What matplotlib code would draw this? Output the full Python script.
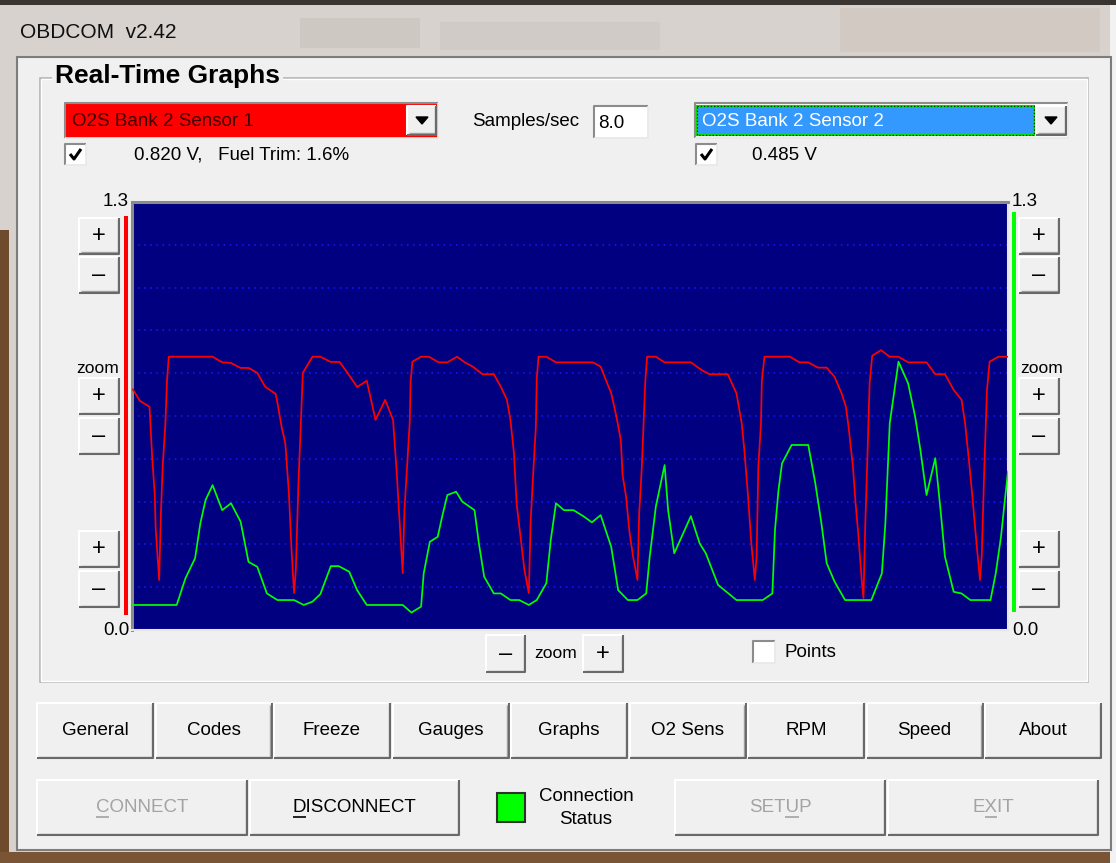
import matplotlib.pyplot as plt
from matplotlib.patches import Rectangle, Polygon

plt.rcParams['font.family'] = ['Liberation Sans', 'DejaVu Sans']

# sensor traces: time as % of the visible window, value in volts
s1_time = [0.1, 0.9, 2.0, 2.3, 2.6, 2.7, 3.1, 3.3, 3.5, 3.8,
           4.0, 4.2, 9.2, 10.3, 11.3, 12.4, 13.3, 14.3, 15.2, 16.4,
           16.6, 17.1, 17.5, 17.9, 18.2, 18.5, 18.7, 19.0, 19.2, 19.5,
           20.6, 21.5, 22.7, 23.7, 24.6, 25.7, 26.8, 27.8, 28.9, 29.8,
           30.2, 30.6, 30.9, 31.1, 31.4, 31.7, 31.8, 32.0, 33.0, 33.9,
           35.0, 36.0, 37.1, 38.1, 38.9, 40.0, 41.3, 42.1, 42.8, 43.2,
           43.6, 43.9, 44.3, 44.8, 45.3, 45.5, 45.8, 46.1, 46.2, 46.4,
           47.3, 48.4, 52.6, 53.5, 54.1, 54.7, 55.3, 55.8, 56.0, 56.4,
           56.8, 57.2, 57.7, 57.9, 58.2, 58.4, 58.6, 58.8, 59.8, 60.8,
           63.8, 65.0, 65.9, 68.0, 69.0, 69.6, 69.9, 70.3, 70.7, 71.1,
           71.3, 71.5, 71.8, 71.9, 72.2, 75.1, 76.2, 77.2, 78.3, 79.3,
           80.2, 81.0, 81.5, 81.8, 82.3, 82.6, 82.9, 83.3, 83.5, 83.7,
           84.0, 84.2, 84.5, 85.5, 86.5, 87.5, 88.6, 90.7, 91.7, 92.8,
           93.8, 94.7, 95.1, 95.5, 95.9, 96.3, 96.8, 97.0, 97.3, 97.6,
           97.9, 98.9, 100.0]
s1_volts = [0.731, 0.696, 0.678, 0.526, 0.410, 0.310, 0.152, 0.355, 0.496, 0.623,
            0.759, 0.830, 0.830, 0.813, 0.811, 0.796, 0.796, 0.781, 0.739, 0.717,
            0.690, 0.614, 0.568, 0.420, 0.249, 0.112, 0.182, 0.447, 0.577, 0.781,
            0.830, 0.830, 0.814, 0.814, 0.781, 0.738, 0.757, 0.638, 0.699, 0.638,
            0.486, 0.310, 0.173, 0.364, 0.496, 0.629, 0.750, 0.815, 0.830, 0.830,
            0.813, 0.813, 0.830, 0.811, 0.800, 0.777, 0.777, 0.739, 0.699, 0.638,
            0.538, 0.386, 0.295, 0.182, 0.112, 0.325, 0.477, 0.617, 0.759, 0.830,
            0.830, 0.813, 0.813, 0.800, 0.759, 0.720, 0.648, 0.577, 0.471, 0.405,
            0.295, 0.223, 0.152, 0.355, 0.496, 0.629, 0.759, 0.830, 0.830, 0.813,
            0.813, 0.790, 0.777, 0.777, 0.719, 0.628, 0.547, 0.415, 0.263, 0.152,
            0.223, 0.496, 0.628, 0.759, 0.830, 0.830, 0.813, 0.813, 0.797, 0.797,
            0.769, 0.719, 0.678, 0.617, 0.496, 0.385, 0.294, 0.152, 0.097, 0.314,
            0.567, 0.749, 0.833, 0.850, 0.830, 0.830, 0.813, 0.813, 0.777, 0.777,
            0.729, 0.699, 0.628, 0.526, 0.415, 0.294, 0.152, 0.223, 0.496, 0.729,
            0.815, 0.830, 0.830]

s2_time = [0.1, 5.1, 6.1, 7.2, 7.8, 8.4, 9.2, 10.3, 11.3, 12.4,
           13.3, 14.3, 15.4, 16.6, 18.5, 19.6, 20.6, 21.5, 22.7, 23.6,
           24.8, 25.7, 26.8, 30.9, 31.9, 33.0, 33.3, 34.0, 34.9, 35.4,
           36.0, 37.0, 37.7, 39.1, 39.6, 40.2, 41.3, 42.1, 43.2, 44.2,
           45.3, 46.2, 47.3, 47.8, 48.4, 49.3, 50.4, 51.5, 52.5, 53.5,
           54.7, 55.5, 56.6, 57.7, 58.7, 59.1, 59.8, 60.8, 61.2, 61.9,
           63.8, 64.8, 65.5, 66.9, 69.0, 72.0, 73.1, 73.4, 73.8, 74.2,
           75.3, 77.2, 78.0, 78.7, 79.3, 80.2, 81.4, 84.4, 85.6, 86.0,
           86.5, 87.5, 88.6, 89.4, 90.0, 90.7, 91.7, 92.3, 92.8, 93.8,
           94.7, 95.7, 98.0, 98.6, 99.2, 99.6, 100.0]
s2_volts = [0.076, 0.076, 0.157, 0.218, 0.324, 0.395, 0.440, 0.364, 0.385, 0.329,
            0.207, 0.192, 0.111, 0.091, 0.091, 0.076, 0.086, 0.109, 0.194, 0.194,
            0.177, 0.121, 0.076, 0.076, 0.053, 0.071, 0.172, 0.268, 0.283, 0.344,
            0.410, 0.420, 0.390, 0.364, 0.263, 0.162, 0.111, 0.111, 0.091, 0.091,
            0.076, 0.091, 0.142, 0.273, 0.385, 0.364, 0.364, 0.346, 0.327, 0.349,
            0.253, 0.121, 0.091, 0.091, 0.111, 0.223, 0.375, 0.501, 0.364, 0.233,
            0.346, 0.263, 0.233, 0.137, 0.091, 0.091, 0.111, 0.304, 0.425, 0.506,
            0.562, 0.562, 0.446, 0.324, 0.203, 0.147, 0.091, 0.091, 0.172, 0.324,
            0.628, 0.815, 0.749, 0.648, 0.547, 0.410, 0.522, 0.364, 0.223, 0.116,
            0.111, 0.091, 0.091, 0.172, 0.283, 0.385, 0.481]

volt_max = 1.3
grid_step = 0.13

s1_name = 'O2S Bank 2 Sensor 1'
s2_name = 'O2S Bank 2 Sensor 2'
s1_readout = '0.820 V,   Fuel Trim: 1.6%'
s2_readout = '0.485 V'
sample_rate = '8.0'
tab_labels = ['General', 'Codes', 'Freeze', 'Gauges', 'Graphs', 'O2 Sens', 'RPM', 'Speed', 'About']

W, H = 1116, 863
FS = 13.5
fig = plt.figure(figsize=(W / 100, H / 100), dpi=100)
ui = fig.add_axes([0, 0, 1, 1])
ui.set_xlim(0, W)
ui.set_ylim(H, 0)
ui.axis('off')
ui.set_autoscale_on(False)
renderer = fig.canvas.get_renderer()


def box(x0, y0, x1, y1, fc, ec='none', lw=0, z=1, alpha=1.0):
    ui.add_patch(Rectangle((x0, y0), x1 - x0, y1 - y0, facecolor=fc,
                           edgecolor=ec, linewidth=lw, zorder=z, alpha=alpha))


def line(xs, ys, color, lw=1.0, z=3, ls='-'):
    ui.plot(xs, ys, color=color, lw=lw, zorder=z, ls=ls, solid_capstyle='butt')


def raised(x0, y0, x1, y1):
    box(x0, y0, x1, y1, '#f0f0f0', z=2)
    line([x0, x0, x1], [y1, y0, y0], 'white', 1.5)
    line([x0 + 1.5, x1 - 1.5, x1 - 1.5], [y1 - 1.5, y1 - 1.5, y0 + 1.5], '#a0a0a0', 1)
    line([x0, x1, x1], [y1, y1, y0], '#696969', 1.5)


def sunken(x0, y0, x1, y1, fc='white'):
    box(x0, y0, x1, y1, fc, z=2)
    line([x0, x0, x1], [y1, y0, y0], '#8c8c8c', 1.5)
    line([x0, x1, x1], [y1, y1, y0], '#e8e8e8', 1.2)


def button(x0, y0, x1, y1, label, color='black', size=FS, under=None):
    raised(x0, y0, x1, y1)
    cx, cy = (x0 + x1) / 2, (y0 + y1) / 2
    t = ui.text(cx, cy, label, ha='center', va='center', fontsize=size, color=color, zorder=5)
    if under is not None:
        bb = t.get_window_extent(renderer)
        probe = ui.text(0, 0, label[:under + 1], fontsize=size)
        w1 = probe.get_window_extent(renderer).width
        w0 = 0
        if under > 0:
            probe.set_text(label[:under])
            w0 = probe.get_window_extent(renderer).width
        probe.remove()
        line([bb.x0 + w0, bb.x0 + w1], [cy + 9, cy + 9], color, 1.2, z=5)


def checkbox(x0, y0, size=21, checked=True):
    sunken(x0, y0, x0 + size, y0 + size)
    if checked:
        line([x0 + 5, x0 + 9, x0 + 16], [y0 + 10, y0 + 15, y0 + 5], 'black', 2.2, z=5)


# window frame (aero glass, blurred desktop behind)
box(0, 0, W, H, '#d8d2ce', z=0)
box(0, 0, W, 5, '#3b3532', z=0.5)
box(300, 18, 420, 48, '#a39b96', z=0.5, alpha=0.18)
box(440, 22, 660, 50, '#a39b96', z=0.5, alpha=0.12)
box(840, 8, 1100, 52, '#c9bab0', z=0.5, alpha=0.35)
box(0, 230, 9, H, '#6e4b2c', z=0.5)
box(0, 852, W, H, '#7a5535', z=0.5)
box(1110, 5, W, H, '#f2f2f2', z=0.5)
ui.text(20, 32, 'OBDCOM  v2.42', fontsize=15, va='center', color='#101010', zorder=5)

# client area
box(17, 57, 1111, 850, '#f0f0f0', ec='#7c7c7c', lw=1.5, z=1)

# group box
ui.add_patch(Rectangle((40, 78), 1048, 604, fill=False, edgecolor='#b4b4b4', lw=1.2, zorder=1.5))
ui.add_patch(Rectangle((41, 79), 1046, 602, fill=False, edgecolor='white', lw=1, zorder=1.5))
ui.text(55, 76, 'Real-Time Graphs', fontsize=19, fontweight='bold', va='center', color='black',
        zorder=5, bbox=dict(facecolor='#f0f0f0', edgecolor='none', pad=2))

# sensor 1 combo
sunken(65, 103, 438, 138, fc='#ff0000')
raised(407, 106, 436, 135)
ui.add_patch(Polygon([[416, 117], [428, 117], [422, 124]], closed=True, color='black', zorder=5))
ui.text(72, 122, s1_name, fontsize=FS, va='center', color='#3a0000', zorder=5)
checkbox(65, 144)
ui.text(134, 155, s1_readout, fontsize=FS, va='center', zorder=5)

# samples / sec
ui.text(472, 122, 'Samples/sec', fontsize=FS, va='center', zorder=5)
sunken(594, 106, 648, 138)
ui.text(598, 123, sample_rate, fontsize=FS, va='center', zorder=5)

# sensor 2 combo
sunken(695, 103, 1068, 138, fc='white')
box(697, 106, 1034, 135, '#3399ff', ec='#00dd00', lw=1.5, z=3)
ui.add_patch(Rectangle((697, 106), 337, 29, fill=False, edgecolor='black', lw=0.8,
                       ls=(0, (1, 2)), zorder=3.5))
raised(1036, 106, 1066, 135)
ui.add_patch(Polygon([[1045, 117], [1057, 117], [1051, 124]], closed=True, color='black', zorder=5))
ui.text(702, 122, s2_name, fontsize=FS, va='center', color='white', zorder=5)
checkbox(696, 144)
ui.text(752, 155, s2_readout, fontsize=FS, va='center', zorder=5)

# scale labels and colour bars
ui.text(129, 201, f'{volt_max:.1f}', fontsize=FS, ha='right', va='center', zorder=5)
ui.text(129, 630, f'{0:.1f}', fontsize=FS, ha='right', va='center', zorder=5)
ui.text(1012, 201, f'{volt_max:.1f}', fontsize=FS, ha='left', va='center', zorder=5)
ui.text(1012, 630, f'{0:.1f}', fontsize=FS, ha='left', va='center', zorder=5)
box(123.5, 216, 127.5, 615, '#ff0000', z=3)
box(1011.5, 212, 1015.5, 612, '#00ff00', z=3)

# side zoom buttons
for bx in (79, 1019):
    for top, sym in ((218, '+'), (257, '\u2013'), (378, '+'), (418, '\u2013'), (531, '+'), (571, '\u2013')):
        button(bx, top, bx + 40, top + 36, sym, size=17)
ui.text(98, 368, 'zoom', fontsize=FS - 1, ha='center', va='center', zorder=5)
ui.text(1042, 368, 'zoom', fontsize=FS - 1, ha='center', va='center', zorder=5)

# bottom zoom and points
button(486, 635, 525, 672, '\u2013', size=17)
ui.text(556, 653, 'zoom', fontsize=FS - 1, ha='center', va='center', zorder=5)
button(583, 635, 623, 672, '+', size=17)
checkbox(753, 641, size=22, checked=False)
ui.text(785, 652, 'Points', fontsize=FS, va='center', zorder=5)

# tab buttons
for i, lab in enumerate(tab_labels):
    x0 = 37 + i * 118.5
    button(x0, 703, x0 + 116, 758, lab)

# connect row
button(37, 780, 247, 835, 'CONNECT', color='#a3a3a3', under=0)
button(250, 780, 459, 835, 'DISCONNECT', under=0)
button(675, 780, 885, 835, 'SETUP', color='#a3a3a3', under=3)
button(888, 780, 1098, 835, 'EXIT', color='#a3a3a3', under=1)
box(497, 793, 525, 822, '#00ff00', ec='#303030', lw=1.5, z=3)
ui.text(586, 796, 'Connection', fontsize=FS, ha='center', va='center', zorder=5)
ui.text(586, 819, 'Status', fontsize=FS, ha='center', va='center', zorder=5)

# graph
ax = fig.add_axes([132 / W, 1 - 630 / H, (1008 - 132) / W, (630 - 202) / H])
ax.set_facecolor('#000080')
ax.set_xlim(0, 100)
ax.set_ylim(0, volt_max)
k = 1
while k * grid_step < volt_max - 1e-9:
    ax.axhline(k * grid_step, color='#1a1aff', lw=1.1, ls=(0, (1, 3)), zorder=1)
    k += 1
ax.plot(s1_time, s1_volts, color='#ff0000', lw=1.25, zorder=3)
ax.plot(s2_time, s2_volts, color='#00ff00', lw=1.25, zorder=3)
ax.set_xticks([])
ax.set_yticks([])
for side in ('top', 'left'):
    ax.spines[side].set_color('#8a8a8a')
    ax.spines[side].set_linewidth(2.2)
for side in ('bottom', 'right'):
    ax.spines[side].set_color('#e6e6e6')
    ax.spines[side].set_linewidth(1.5)

fig.savefig('out.png', dpi=100)
